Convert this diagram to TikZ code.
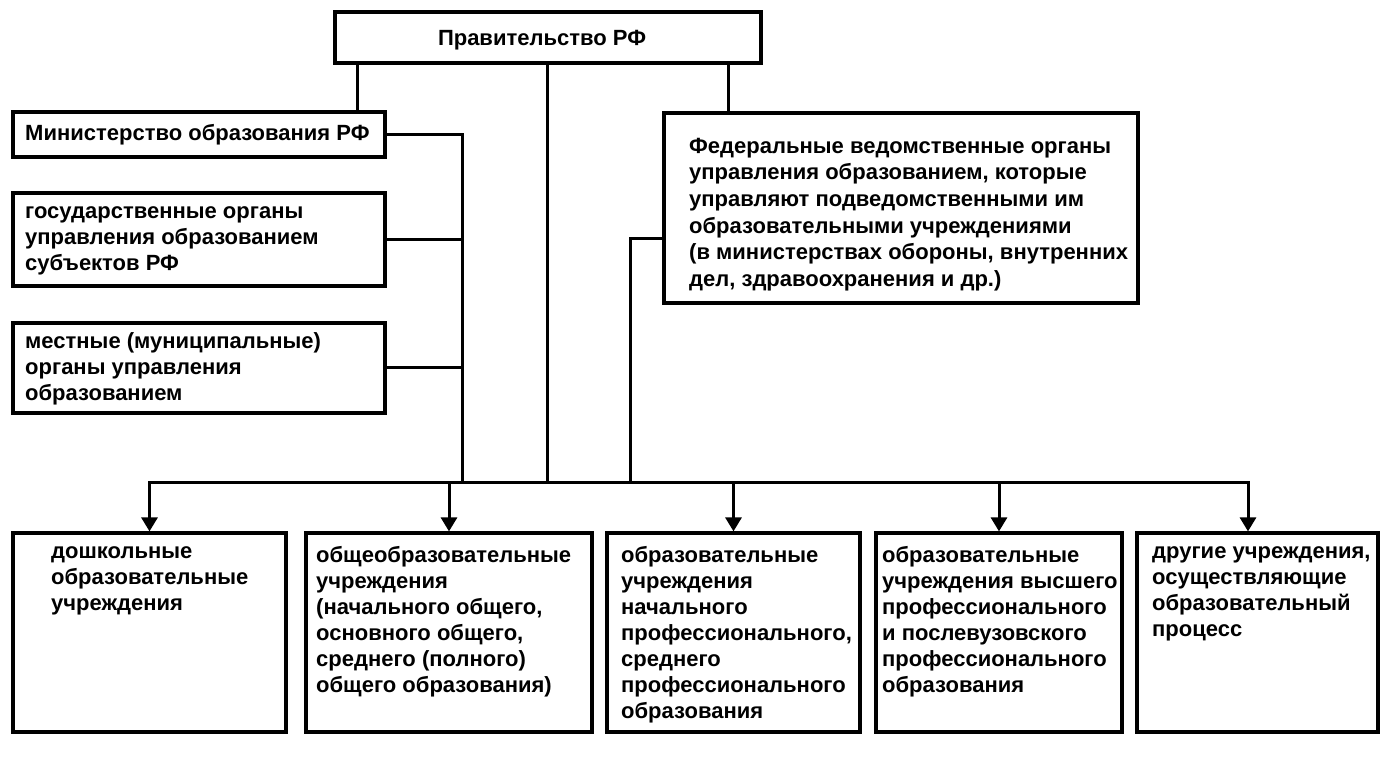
\documentclass[tikz,border=0pt]{standalone}
\usepackage{fontspec}
\setmainfont{Liberation Sans}
\usetikzlibrary{fit,arrows.meta}
\newcommand{\ts}{\strut}
\begin{document}
\begin{tikzpicture}[x=1pt,y=-1pt,
  box/.style={draw, line width=3.2pt, inner sep=0pt},
  txt/.style={inner sep=0pt, align=left, anchor=north west,
    font=\bfseries\fontsize{22}{26}\selectfont},
  conn/.style={line width=3pt},
  arr/.style={conn, -{Triangle[width=16pt,length=14pt]}}]
\useasboundingbox (0,0) rectangle (1385,775);
% boxes
\node[box, fit={(335,12) (761,63)}] (gov) {};
\node[box, fit={(13,112) (385,157)}] (min) {};
\node[box, fit={(13,193) (385,286)}] (reg) {};
\node[box, fit={(13,323) (385,413)}] (loc) {};
\node[box, fit={(664,113) (1138,303)}] (fed) {};
\node[box, fit={(13,533) (286,732)}] (b1) {};
\node[box, fit={(306,533) (592,732)}] (b2) {};
\node[box, fit={(607,533) (860,732)}] (b3) {};
\node[box, fit={(876,533) (1122,732)}] (b4) {};
\node[box, fit={(1137,533) (1378,732)}] (b5) {};
% texts
\node[txt, anchor=north] (tgov) at (542,27.5) {\ts Правительство РФ};
\node[txt] (tmin) at (25,122.5) {\ts Министерство образования РФ};
\node[txt] (treg) at (25,200.5) {\ts государственные органы\\управления образованием\\субъектов РФ};
\node[txt] (tloc) at (25,330.5) {\ts местные (муниципальные)\\органы управления\\образованием};
\node[txt, font=\bfseries\fontsize{22}{26.6}\selectfont] (tfed) at (689,134.5) {\ts Федеральные ведомственные органы\\управления образованием, которые\\управляют подведомственными им\\образовательными учреждениями\\(в министерствах обороны, внутренних\\дел, здравоохранения и др.)};
\node[txt] (tb1) at (51,540.5) {\ts дошкольные\\образовательные\\учреждения};
\node[txt] (tb2) at (316,544.5) {\ts общеобразовательные\\учреждения\\(начального общего,\\основного общего,\\среднего (полного)\\общего образования)};
\node[txt] (tb3) at (621,544.5) {\ts образовательные\\учреждения\\начального\\профессионального,\\среднего\\профессионального\\образования};
\node[txt] (tb4) at (882,544.5) {\ts образовательные\\учреждения высшего\\профессионального\\и послевузовского\\профессионального\\образования};
\node[txt] (tb5) at (1152,540.5) {\ts другие учреждения,\\осуществляющие\\образовательный\\процесс};
% helper coordinates
\coordinate (xl) at (357,0);
\coordinate (xc) at (547,0);
\coordinate (xr) at (728,0);
\coordinate (xv) at (462,0);
\coordinate (xf) at (630,0);
\coordinate (fy) at (0,239);
\coordinate (bus) at (0,483);
\coordinate (xa5) at (1248,0);
% connectors
\draw[conn] (gov.south -| xl) -- (min.north -| xl);
\draw[conn] (gov.south -| xc) -- (bus -| xc);
\draw[conn] (gov.south -| xr) -- (fed.north -| xr);
\draw[conn] (min.east) -| (bus -| xv);
\draw[conn] (reg.east) -- (reg.east -| xv);
\draw[conn] (loc.east) -- (loc.east -| xv);
\draw[conn] (fed.west |- fy) -| (bus -| xf);
\draw[conn, line cap=rect] (bus -| b1.north) -- (bus -| xa5);
\draw[arr] (bus -| b1.north) -- (b1.north);
\draw[arr] (bus -| b2.north) -- (b2.north);
\draw[arr] (bus -| b3.north) -- (b3.north);
\draw[arr] (bus -| b4.north) -- (b4.north);
\draw[arr] (bus -| xa5) -- (b5.north -| xa5);
\end{tikzpicture}
\end{document}
